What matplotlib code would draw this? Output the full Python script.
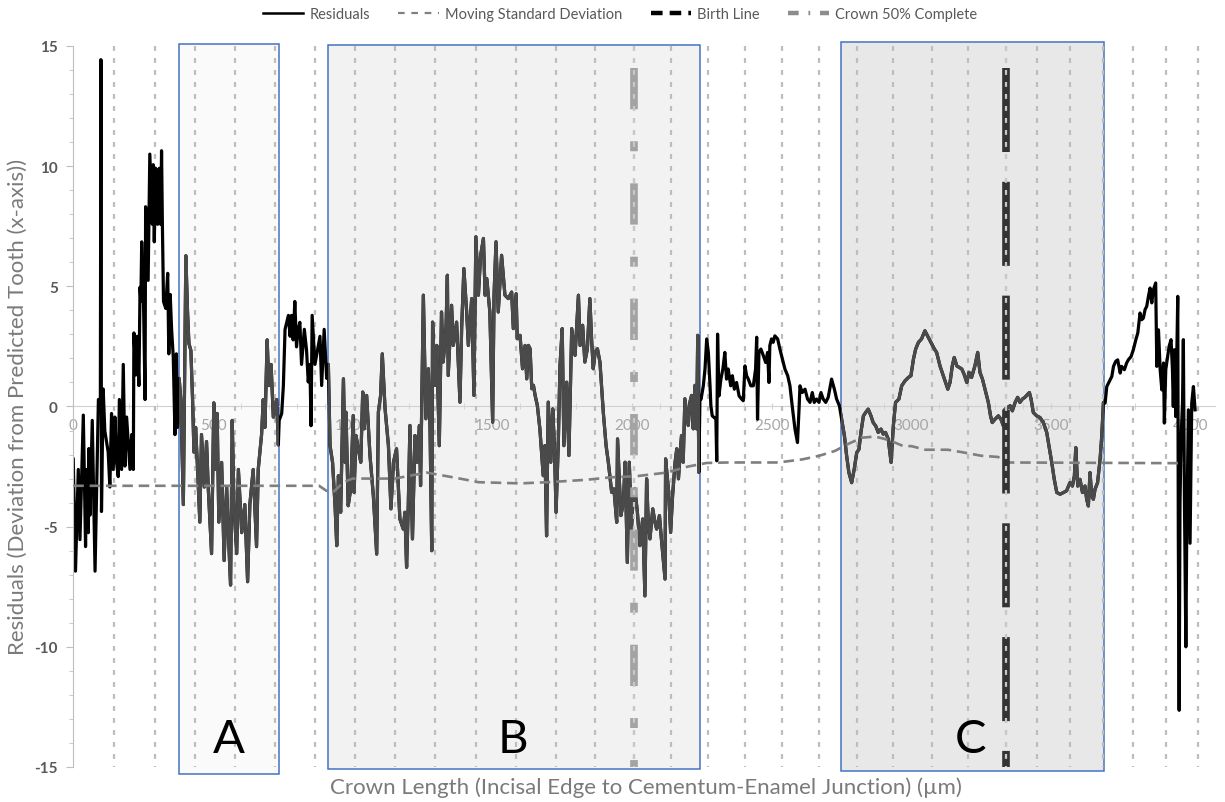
import matplotlib
matplotlib.use("Agg")
import matplotlib.pyplot as plt
from matplotlib.lines import Line2D
from matplotlib.patches import Rectangle
import numpy as np

plt.rcParams['font.family'] = ['Lato', 'DejaVu Sans']

# ---------------- data ----------------
res_x = [0, 8, 18, 24, 36, 44, 48, 54, 56, 60, 68, 78, 90, 97, 99, 101, 107, 113, 125, 131,
         137, 143, 149, 155, 161, 165, 173, 179, 185, 191, 203, 209, 215, 217, 224, 229, 235, 239, 242, 245,
         251, 257, 259, 268, 274, 283, 286, 290, 295, 302, 308, 313, 316, 319, 323, 331, 338, 342, 347, 352,
         358, 364, 369, 373, 379,
         385, 394, 403, 409, 414, 421, 427, 432, 438, 445, 453, 459, 469, 477, 483, 495, 503, 509, 515, 521,
         531, 540, 549, 555, 563, 569, 575, 585, 591, 603, 614, 624, 632, 644, 656, 662, 674, 680, 686, 694,
         700, 708, 716, 728, 734, 737,
         746, 752, 758, 764, 770, 776, 781, 787, 793, 799, 805, 811, 817, 827, 835, 841, 847, 851, 855, 865,
         874, 883, 889, 898, 907, 913,
         919, 928, 937, 943, 949, 957, 967, 973, 976, 984, 993, 1002, 1005, 1012, 1020, 1029, 1036, 1041, 1050, 1062,
         1074, 1086, 1092, 1100, 1106, 1116, 1128, 1137, 1146, 1157, 1169, 1181, 1187, 1193, 1199, 1205, 1214, 1223, 1231, 1239,
         1243, 1253, 1262, 1271, 1277, 1283, 1286, 1295, 1301, 1310, 1318, 1324, 1334, 1339, 1342, 1354, 1360, 1372, 1384, 1390,
         1398, 1408, 1414, 1426, 1434, 1441, 1450, 1458, 1468, 1474, 1480, 1491, 1501, 1506, 1513, 1521, 1533, 1545, 1557,
         1569, 1575, 1585, 1589, 1599, 1608, 1617, 1623, 1629, 1635, 1641, 1647, 1653, 1661, 1670, 1682, 1688, 1694, 1700, 1709,
         1716, 1722, 1728, 1736, 1742, 1750, 1756, 1766, 1774, 1784, 1796, 1802, 1808, 1814, 1823, 1831, 1840, 1849, 1855, 1861,
         1868, 1876, 1885, 1897, 1907, 1915, 1927, 1935, 1945, 1948, 1960, 1969, 1975, 1983, 1990, 1998, 2004, 2010, 2019, 2028,
         2038, 2046, 2052, 2058, 2064, 2074, 2082, 2088, 2098, 2106, 2118, 2120, 2130, 2138, 2145, 2154, 2160, 2166, 2174, 2177,
         2183, 2189, 2201, 2207, 2213, 2219, 2225, 2231, 2235, 2239, 2243,
         2247, 2255, 2261, 2267, 2273, 2279, 2282, 2287, 2294, 2300, 2303, 2306, 2311, 2318, 2325, 2332, 2338, 2344, 2353, 2359,
         2366, 2374, 2383, 2392, 2398, 2404, 2410, 2416, 2425, 2434, 2442, 2446, 2449, 2454, 2461, 2470, 2478, 2485, 2490, 2493,
         2499, 2505, 2511, 2521, 2529, 2538, 2547, 2557, 2565, 2573, 2583, 2592, 2597, 2601, 2609, 2619, 2628, 2637, 2645, 2652,
         2660, 2669, 2676, 2684, 2693, 2702, 2714, 2724, 2732, 2742,
         2750, 2760, 2768, 2776, 2786, 2795, 2804, 2812, 2819, 2828, 2836, 2845, 2855, 2863, 2872, 2881, 2891, 2899, 2907, 2917,
         2927, 2935, 2943,
         2955, 2965, 2977, 2989, 2998, 3007, 3015, 3025, 3036, 3048, 3060, 3072, 3082, 3090, 3102, 3114, 3130, 3138, 3146, 3153,
         3162, 3170, 3180, 3188, 3198, 3206, 3215, 3227, 3237, 3245, 3254, 3263, 3275, 3283, 3289, 3299, 3311, 3320, 3329, 3335,
         3344, 3353, 3361, 3371, 3380, 3388, 3397, 3406, 3416, 3422, 3428, 3436, 3448, 3460, 3472, 3484, 3492, 3502, 3511, 3520,
         3532, 3544, 3555, 3567, 3576, 3583, 3588, 3595, 3603, 3612, 3621, 3627, 3633, 3639, 3645, 3651, 3657, 3666, 3675, 3681,
         3687,
         3693, 3699, 3705, 3711, 3717, 3723, 3731, 3738, 3747, 3752, 3762, 3770, 3776, 3786, 3794, 3803, 3810, 3818, 3824, 3830,
         3836, 3842, 3848, 3854, 3860, 3866, 3874, 3878, 3884, 3890, 3896, 3902, 3905, 3910, 3917, 3922, 3929, 3934, 3937, 3941,
         3946, 3953, 3955, 3958, 3961, 3965, 3970, 3973, 3977, 3982, 3985, 3991, 3997, 4003, 4009, 4015]

res_y = [-2.19, -6.85, -2.62, -5.54, -0.36, -5.83, -2.62, -5.25, -1.75, -4.52, -0.58, -6.85, 0.29, 0.29, 14.43, -4.37, 0.73, -1.02, -1.90, -3.35,
         -0.29, -2.62, -0.44, -2.33, -2.92, 0.29, -2.62, 1.75, -2.48, -0.44, -2.62, -1.17, -2.62, 3.06, 1.31, 2.92, 0.87, 4.96, 4.37, 6.85,
         4.66, 0.29, 8.31, 5.25, 10.50, 7.58, 10.06, 6.85, 9.91, 7.58, 9.91, 7.58, 10.64, 7.58, 4.37, 4.08, 5.54, 2.19, 4.66, 3.21,
         2.04, -1.17, 2.19, -0.87, 1.17,
         0.29, -4.08, 6.27, 3.94, 2.62, 2.33, 0.29, -1.90, -0.87, -2.62, -4.81, -1.17, -3.35, -1.46, -3.35, -6.12, 0.15, -2.62, -0.29, -4.81,
         -2.33, -6.41, -3.35, -5.25, -7.43, -0.58, -4.08, -6.12, -2.62, -5.25, -4.08, -7.29, -4.08, -2.62, -5.83, -2.62, -1.17, 0.29, -0.87, 2.77,
         0.87, 1.75, -0.44, 0.29, -1.60, -0.58,
         -0.29, 0.87, 3.21, 3.50, 3.79, 2.92, 3.79, 2.77, 4.37, 2.48, 3.21, 3.50, 1.75, 3.21, 2.33, 1.02, 1.75, -0.80, 3.79, 1.75,
         2.33, 2.92, 0.87, 3.21, 1.17, 1.75,
         -1.63, -2.32, -4.13, -5.79, -2.88, -4.40, 1.15, -2.32, -0.24, -4.13, -3.43, -0.38, -3.57, -1.21, -1.76, -2.32, 0.60, -0.93, 0.46, -2.04,
         -3.71, -6.14, -0.24, 0.46, 2.19, -0.10, -1.63, -4.26, -2.32, -1.76, -4.68, -5.10, -4.40, -6.69, -4.13, -0.79, -5.51, -1.21, -2.32, -0.79,
         -3.29, 4.63, -0.51, 1.57, -0.93, -6.00, 3.51, 0.88, 2.54, -1.63, 3.93, 1.85, 3.24, 5.46, 1.29, 4.21, 2.54, 3.51, 0.18, 3.24,
         5.74, 3.93, 2.54, 4.49, 0.46, 7.06, 4.63, 6.29, 6.99, 4.63, 5.32, 3.93, -0.65, 4.63, 6.85, 3.93, 6.29, 4.63, 4.49,
         4.76, 3.24, 4.69, 2.82, 2.96, 1.57, 2.54, 1.15, 2.54, 2.40, 0.74, 0.88, 0.46, 0.04, -0.93, -2.88, -1.63, -5.38, 0.18, -2.32,
         -0.10, -1.63, -4.40, -1.49, 1.71, 3.24, -1.63, 1.01, -2.04, 3.24, 2.13, 3.38, 4.63, 2.54, 3.38, 1.85, 2.40, 4.49, 2.82, 1.57,
         2.26, 2.40, 1.85, -0.24, -1.63, -2.32, -3.57, -3.43, -4.82, -1.35, -4.54, -3.99, -2.32, -6.49, -2.32, -5.10, -3.71, -3.43, -4.40, -5.79,
         -4.68, -7.88, -3.01, -4.82, -5.51, -4.26, -4.82, -5.10, -4.54, -5.65, -7.18, -2.18, -3.43, -5.24, -3.71, -2.32, -1.76, -3.01, -1.63, -1.21,
         -2.32, 0.32, -0.79, 0.18, 0.46, -0.93, 0.88, -0.93, 2.96, -2.74, 0.46,
         0.31, 0.86, 1.56, 2.81, 2.25, 0.86, 0.03, -0.39, -0.46, -0.53, -2.26, 3.01, 0.44, 1.14, 1.56, 2.25, 1.14, 1.56, 0.86, 1.28,
         0.72, 1.00, 0.44, 0.31, 0.24, 1.69, 1.28, 1.14, 0.86, 0.86, 1.56, 2.88, -0.53, 2.25, 2.39, 2.11, 1.83, 2.25, 1.00, 2.53,
         2.81, 2.67, 2.94, 2.81, 2.39, 1.97, 1.56, 1.28, 0.86, 0.03, -0.94, -1.50, -0.25, 0.86, 0.58, 0.72, 0.31, 0.17, 0.58, 0.17,
         0.31, 0.17, 0.58, 0.31, 0.17, 0.38, 1.14, 0.72, 0.31, 0.03,
         -0.53, -1.22, -2.06, -2.75, -3.17, -2.61, -1.92, -1.78, -1.08, -0.39, -0.25, -0.11, -0.39, -0.67, -0.81, -1.08, -0.94, -1.15, -1.08, -1.36,
         -2.33, -0.81, 0.17,
         0.31, 0.86, 1.07, 1.21, 1.28, 1.97, 2.39, 2.67, 2.81, 3.15, 2.88, 2.60, 2.39, 2.25, 1.69, 1.28, 0.72, 1.00, 1.69, 2.04,
         1.69, 1.63, 1.56, 1.35, 1.00, 1.42, 1.21, 1.69, 2.25, 1.42, 1.14, 0.72, 0.17, -0.39, -0.67, -0.53, -0.39, -0.53, -0.81, -0.11,
         -0.04, 0.03, -0.18, 0.17, 0.38, 0.17, 0.31, 0.38, 0.51, 0.58, 0.31, -0.25, -0.39, -0.46, -0.67, -1.08, -1.64, -2.33, -3.03, -3.58,
         -3.65, -3.58, -3.51, -3.17, -3.31, -2.89, -1.71, -3.31, -3.03, -3.58, -3.31, -3.86, -4.14, -2.75, -3.72, -3.86, -3.44, -3.17, -2.19, -1.22,
         0.17,
         0.14, 0.83, 0.97, 1.11, 1.25, 1.67, 1.88, 1.94, 1.39, 1.67, 1.53, 1.81, 1.94, 2.08, 2.36, 2.78, 3.06, 3.89, 3.61, 3.68,
         4.03, 4.17, 4.58, 4.93, 4.31, 4.86, 5.14, 1.67, 3.19, 1.53, 0.69, 1.81, -0.69, 1.53, 2.08, 2.50, 2.78, 1.53, 0.00, 2.36,
         -0.42, 4.58, -5.42, -12.64, -4.03, -1.25, 0.14, 2.78, -4.03, -10.00, -5.42, -0.14, -5.69, 0.14, 0.83, -0.14]

sd_x = [0, 880, 905, 930, 967, 1000, 1150, 1265, 1384, 1450, 1600, 1700, 1837, 1921, 2016, 2124,
        2200, 2267, 2344, 2523, 2610, 2670, 2726, 2775, 2822, 2870, 2920, 2971, 3000, 3050, 3130,
        3180, 3250, 3310, 3340, 3975]
sd_y = [-3.3, -3.3, -3.5, -3.57, -3.15, -3.0, -3.0, -2.75, -3.0, -3.15, -3.2, -3.15, -3.05, -2.95, -2.9, -2.75,
        -2.5, -2.35, -2.33, -2.33, -2.2, -2.05, -1.85, -1.55, -1.3, -1.25, -1.4, -1.65, -1.65, -1.8, -1.8,
        -1.9, -2.05, -2.1, -2.33, -2.36]

perikymata_x = [145, 292, 434, 578, 722, 865, 1008, 1152, 1296, 1440, 1584, 1728, 1867, 2006, 2138,
                2272, 2404, 2537, 2669, 2805, 2934, 3072, 3204, 3338, 3451, 3566, 3684, 3793, 3911, 4026]

region_labels = ['A', 'B', 'C']
region_start = [378, 913, 2746]
region_end = [736, 2243, 3688]
region_label_x = [558, 1574, 3210]
birth_line_x = 3338
crown_half_x = 2006

xtick_values = [0, 500, 1000, 1500, 2000, 2500, 3000, 3500, 4000]
ytick_values = [-15, -10, -5, 0, 5, 10, 15]

legend_labels = ['Residuals', 'Moving Standard Deviation', 'Birth Line', 'Crown 50% Complete']

# ---------------- figure ----------------
fig = plt.figure(figsize=(12.25, 8.03), dpi=100)
ax = fig.add_axes([0.0598, 0.0436, 0.9322, 0.8979])
ax.set_xlim(0, 4087)
ax.set_ylim(-15, 15)

region_fill = ['#fafafa', '#f2f2f2', '#e8e8e8']
region_bottom = [-15.3, -15.1, -15.15]
region_top = [15.07, 15.03, 15.15]
rects = []
for lo, hi, fc, b, t in zip(region_start, region_end, region_fill, region_bottom, region_top):
    r = Rectangle((lo, b), hi - lo, t - b, facecolor=fc, edgecolor='#4472c4', lw=1.1,
                  clip_on=False, zorder=0.5)
    ax.add_patch(r)
    rects.append(Rectangle((lo, -20), hi - lo, 40, transform=ax.transData))

# perikymata dashed verticals
for px in perikymata_x:
    ax.plot([px, px], [15, -15], color='#bdbdbd', lw=1.6, ls=(0, (2.2, 3.2)), zorder=1.5)

# residuals: black everywhere, dark gray inside the regions
ax.plot(res_x, res_y, color='black', lw=2.3, zorder=2)
for r in rects:
    ln, = ax.plot(res_x, res_y, color='#4a4a4a', lw=2.3, zorder=2.1)
    ln.set_clip_path(r)

# moving standard deviation
ax.plot(sd_x, sd_y, color='#7f7f7f', lw=1.9, ls=(0, (4, 2.2)), zorder=3)

# birth line and crown 50 % line
ax.plot([birth_line_x, birth_line_x], [14.07, -15], color='#333333', lw=5.5,
        ls=(0, (11, 3.9)), zorder=4, dash_capstyle='butt')
ax.plot([crown_half_x, crown_half_x], [14.07, -15], color='#a3a3a3', lw=5.5,
        ls=(0, (5.4, 4.2, 1.3, 4.2)), zorder=4, dash_capstyle='butt')
for px in (crown_half_x, birth_line_x):
    ax.plot([px, px], [15, -15], color='#c8c8c8', lw=1.6, ls=(0, (2.2, 3.2)), zorder=4.5)

# region letters
for lab, lx in zip(region_labels, region_label_x):
    ax.text(lx, -13.85, lab, fontsize=34, ha='center', va='center', color='black', zorder=6)

# axes styling
for s in ('top', 'right'):
    ax.spines[s].set_visible(False)
ax.spines['left'].set_color('#bfbfbf')
ax.spines['bottom'].set_position(('data', 0))
ax.spines['bottom'].set_color('#d0d0d0')
ax.spines['bottom'].set_zorder(1)

ax.set_xticks(xtick_values)
ax.set_xticklabels([str(v) for v in xtick_values])
ax.set_xticks(np.arange(0, 4001, 100), minor=True)
ax.set_yticks(ytick_values)
ax.set_yticklabels([str(v) for v in ytick_values])
ax.set_yticks(np.arange(-15, 16, 1), minor=True)

ax.tick_params(axis='x', which='both', direction='inout', length=4, color='#d0d0d0',
               labelcolor='#a6a6a6', labelsize=11, pad=6)
ax.tick_params(axis='y', which='major', direction='out', length=5, color='#bfbfbf',
               labelcolor='#595959', labelsize=11, pad=6)
ax.tick_params(axis='y', which='minor', direction='out', length=3, color='#bfbfbf')
for t in ax.get_yticklabels():
    t.set_fontweight('bold')
for t in ax.get_xticklabels():
    t.set_zorder(1)

fig.text(0.0145, 0.493, 'Residuals (Deviation from Predicted Tooth (x-axis))', rotation=90,
         ha='center', va='center', fontsize=16, color='#7a7a7a')
fig.text(0.527, 0.019, 'Crown Length (Incisal Edge to Cementum-Enamel Junction) (µm)',
         ha='center', va='center', fontsize=16, color='#7a7a7a')

handles = [
    Line2D([], [], color='black', lw=1.8),
    Line2D([], [], color='#808080', lw=1.6, ls=(0, (3, 3))),
    Line2D([], [], color='black', lw=3.2, ls=(0, (2.6, 1.6))),
    Line2D([], [], color='#8c8c8c', lw=3.2, ls=(0, (2.4, 2.2, 0.4, 2.2))),
]
fig.legend(handles, legend_labels, loc='center', bbox_to_anchor=(0.506, 0.981), ncol=4,
           frameon=False, fontsize=10.5, handlelength=2.8, handletextpad=0.4,
           columnspacing=1.95, labelcolor='#595959')

fig.savefig('out.png', dpi=100)
